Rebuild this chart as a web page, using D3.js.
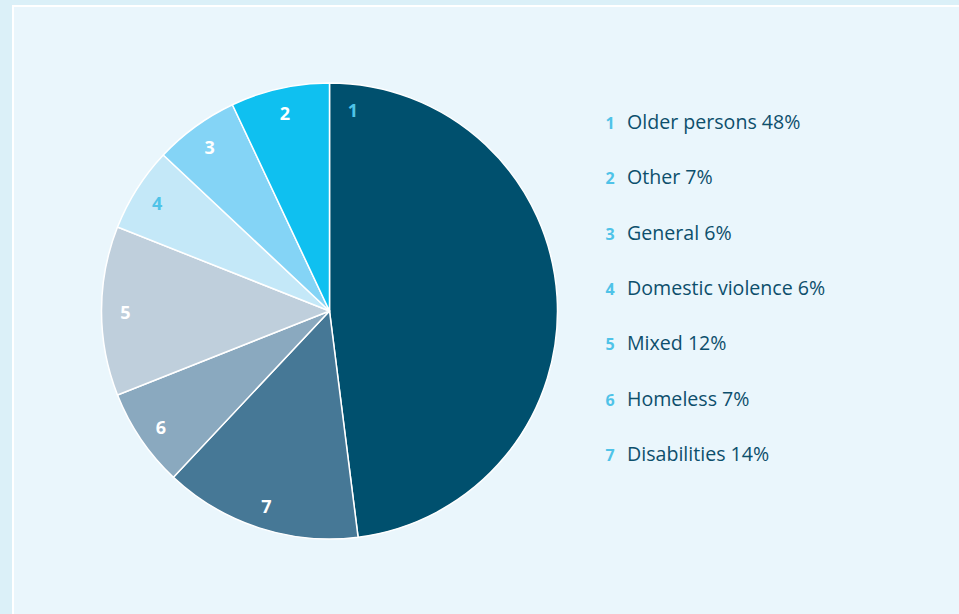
<!DOCTYPE html>
<html>
<head>
<meta charset="utf-8">
<script src="https://cdn.jsdelivr.net/npm/d3@7"></script>
<style>
  html, body { margin: 0; padding: 0; background: #dbf0f8; }
  svg { display: block; }
</style>
</head>
<body>
<svg width="959" height="614"></svg>
<script>
var svg = d3.select("svg");
var width = +svg.attr("width");
var height = +svg.attr("height");

// data, in the order the legend lists them
var ids = ["1", "2", "3", "4", "5", "6", "7"];
var names = ["Older persons", "Other", "General", "Domestic violence", "Mixed", "Homeless", "Disabilities"];
var values = [48, 7, 6, 6, 12, 7, 14];
// clockwise drawing order starting at 12 o'clock
var pieOrder = ["1", "7", "6", "5", "4", "3", "2"];

var colors = {
  "1": "#00506e", "7": "#467896", "6": "#8aa9bf", "5": "#bfcfdc",
  "4": "#c4e8f8", "3": "#84d4f6", "2": "#0fc0f0"
};
var labelColors = { "1": "#4fc3e8", "4": "#4fc3e8" };

// panel
svg.append("rect")
    .attr("x", 13).attr("y", 6)
    .attr("width", width).attr("height", height)
    .attr("fill", "#eaf6fc")
    .attr("stroke", "#ffffff")
    .attr("stroke-width", 2);

var cx = 329.5, cy = 311, r = 228;

var data = pieOrder.map(function(id) {
  var i = ids.indexOf(id);
  return { id: id, value: values[i] };
});

var pie = d3.pie().sort(null).value(function(d) { return d.value; });
var arc = d3.arc().innerRadius(0).outerRadius(r);

var g = svg.append("g").attr("transform", "translate(" + cx + "," + cy + ")");
var arcs = pie(data);

g.selectAll("path")
  .data(arcs)
  .enter().append("path")
    .attr("d", arc)
    .attr("fill", function(d) { return colors[d.data.id]; })
    .attr("stroke", "#ffffff")
    .attr("stroke-width", 1.5)
    .attr("stroke-linejoin", "round");

g.selectAll("text.slice")
  .data(arcs)
  .enter().append("text")
    .attr("class", "slice")
    .attr("transform", function(d) {
      var a = (d.startAngle + d.endAngle) / 2;
      // the big slice has its number near its start edge
      if (d.data.id === "1") a = d.startAngle + 0.115;
      var p = [Math.sin(a) * 204, -Math.cos(a) * 204 + 2];
      return "translate(" + p + ")";
    })
    .attr("text-anchor", "middle")
    .attr("dy", "0.36em")
    .attr("font-family", "'Open Sans', sans-serif")
    .attr("font-weight", "bold")
    .attr("font-size", 18)
    .attr("fill", function(d) { return labelColors[d.data.id] || "#ffffff"; })
    .text(function(d) { return d.data.id; });

// legend
var y = d3.scalePoint().domain(ids).range([129, 461]);

var legend = svg.append("g").selectAll("g")
  .data(ids)
  .enter().append("g")
    .attr("transform", function(d) { return "translate(0," + y(d) + ")"; });

legend.append("text")
    .attr("x", 610)
    .attr("text-anchor", "middle")
    .attr("font-family", "'Open Sans', sans-serif")
    .attr("font-weight", "bold")
    .attr("font-size", 16)
    .attr("fill", "#4fc3e8")
    .text(function(d) { return d; });

legend.append("text")
    .attr("x", 627)
    .attr("font-family", "'Open Sans', sans-serif")
    .attr("font-size", 19.6)
    .attr("fill", "#0d4f6c")
    .text(function(d, i) { return names[i] + " " + values[i] + "%"; });
</script>
</body>
</html>
